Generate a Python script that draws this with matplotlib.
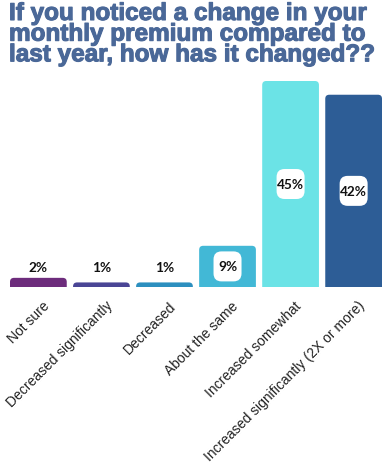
import matplotlib

matplotlib.use("Agg")
import matplotlib.pyplot as plt
import matplotlib.patheffects as pe
from matplotlib.patches import FancyBboxPatch
from matplotlib.transforms import ScaledTranslation

TITLE = "If you noticed a change in your\nmonthly premium compared to\nlast year, how has it changed??"
categories = ["Not sure", "Decreased significantly", "Decreased", "About the same",
              "Increased somewhat", "Increased significantly (2X or more)"]
values = [2, 1, 1, 9, 45, 42]
colors = ["#6d2c7c", "#4a4595", "#2c8fbf", "#42b8d6", "#6be3e6", "#2d5d96"]

W, H, DPI = 385, 464, 100
fig = plt.figure(figsize=(W / DPI, H / DPI), dpi=DPI)
ax = fig.add_axes([10 / W, 1 - 288 / H, 372 / W, (288 - 82) / H])

width = 0.9
ax.set_xlim(-width / 2, len(values) - 1 + width / 2)
ax.set_ylim(0, max(values))

# rounded top corners: scale the rounding so it looks circular in pixels
px_x = 372 / (len(values) - 1 + width)
px_y = (288 - 82) / max(values)
aspect = px_x / px_y
r = 4 / px_x
for i, (v, c) in enumerate(zip(values, colors)):
    p = FancyBboxPatch((i - width / 2 + r, -10), width - 2 * r, v + 10 - r * aspect,
                       boxstyle=f"round,pad={r},rounding_size={r}",
                       mutation_aspect=aspect, fc=c, ec="none")
    ax.add_patch(p)
    lab = dict(ha="center", va="center", fontsize=9.8, fontweight="bold",
               family="Lato", color="#111111", zorder=4)
    if v >= 5:
        # white rounded label box, sized in pixels
        tr = fig.dpi_scale_trans + ScaledTranslation(i, v / 2, ax.transData)
        ax.add_patch(FancyBboxPatch((-12 / DPI, -13 / DPI), 24 / DPI, 26 / DPI,
                                    boxstyle=f"round,pad={2 / DPI},rounding_size={8 / DPI}",
                                    transform=tr, fc="white", ec="none", zorder=3,
                                    clip_on=False))
        ax.text(i, v / 2, f"{v}%", **lab)
    else:
        ax.text(i, 4.3, f"{v}%", **lab)

ax.set_xticks(range(len(categories)))
ax.set_xticklabels(categories, rotation=45, ha="right", rotation_mode="anchor",
                   fontsize=10, family="Liberation Sans", color="#222222")
ax.tick_params(axis="x", length=0, pad=8)
shift = ScaledTranslation(4 / DPI, 0, fig.dpi_scale_trans)
for t in ax.get_xticklabels():
    t.set_transform(t.get_transform() + shift)
ax.set_yticks([])
for s in ax.spines.values():
    s.set_visible(False)

fig.text(9 / W, 1 - 3 / H, TITLE, ha="left", va="top", fontsize=17.5,
         fontweight="bold", family="Liberation Sans", color="#4a6898", linespacing=0.87,
         path_effects=[pe.withStroke(linewidth=0.8, foreground="#4a6898")])

fig.savefig("out.png", dpi=DPI)
